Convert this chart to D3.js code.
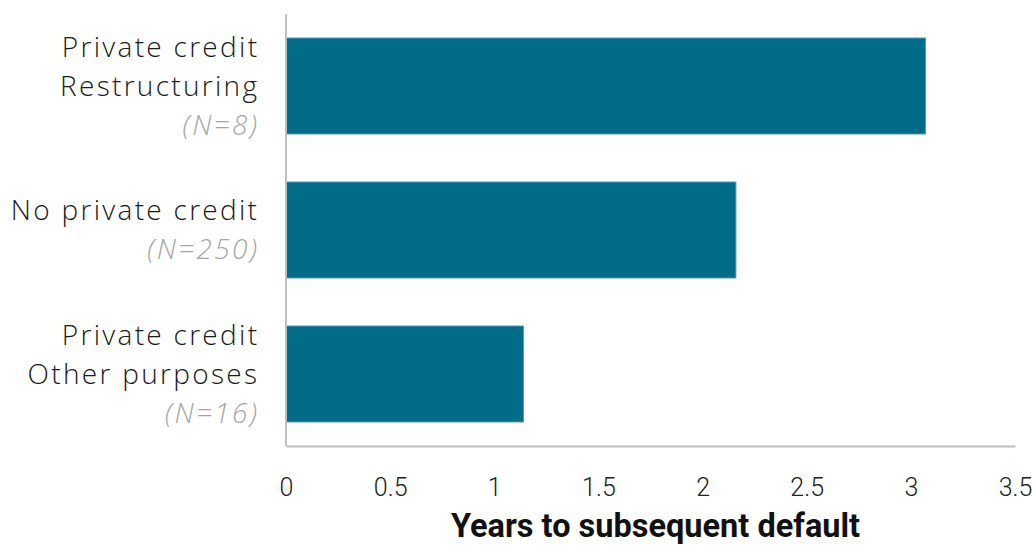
<!DOCTYPE html>
<html><head><meta charset="utf-8">
<script src="https://cdn.jsdelivr.net/npm/d3@7"></script>
<style>
html,body{margin:0;padding:0;background:#fff;}
svg{display:block;}
</style></head>
<body><svg id="chart" width="1036" height="546"></svg>
<script>
const categories = ["Private credit|Restructuring", "No private credit", "Private credit|Other purposes"];
const sampleSizes = ["(N=8)", "(N=250)", "(N=16)"];
const values = [3.07, 2.16, 1.14];
const tickValues = [0, 0.5, 1, 1.5, 2, 2.5, 3, 3.5];
const xTitle = "Years to subsequent default";

const svg = d3.select("#chart");
const mLeft = 286, mRight = 1015, mTop = 14, mBottom = 446;
const x = d3.scaleLinear().domain([0, 3.5]).range([mLeft, mRight]);
const y = d3.scaleBand().domain(categories).range([mTop, mBottom]).paddingInner(1/3).paddingOuter(1/6);

const font = "Roboto, 'Open Sans', sans-serif";
const labelFont = "'Open Sans', Roboto, sans-serif";
const ls = 2.3;

// bars
svg.selectAll("rect.bar").data(categories).join("rect")
  .attr("class", "bar")
  .attr("x", x(0))
  .attr("y", d => y(d))
  .attr("width", (d, i) => x(values[i]) - x(0))
  .attr("height", y.bandwidth())
  .attr("fill", "#006C87")
  .attr("stroke", "#4F9BB0")
  .attr("stroke-width", 1);

// x axis
const xAxis = d3.axisBottom(x).tickValues(tickValues).tickSize(0).tickPadding(32)
  .tickFormat(d => String(d));
const gx = svg.append("g").attr("transform", `translate(0,${mBottom})`).call(xAxis);
gx.select(".domain").attr("stroke", "#BFBFBF").attr("stroke-width", 2);
gx.selectAll(".tick text").attr("font-family", font).attr("font-weight", 300)
  .attr("font-size", 25).attr("fill", "#222");

// y axis line
svg.append("line").attr("x1", mLeft).attr("x2", mLeft).attr("y1", mTop).attr("y2", mBottom)
  .attr("stroke", "#BFBFBF").attr("stroke-width", 2);

// category labels
const lineH = 39;
categories.forEach((c, i) => {
  const lines = c.split("|");
  const all = lines.map(t => ({t, n: false})).concat([{t: sampleSizes[i], n: true}]);
  const cy = y(c) + y.bandwidth() / 2;
  const start = cy - (all.length - 1) * lineH / 2;
  all.forEach((l, j) => {
    svg.append("text")
      .attr("x", 257 + ls)
      .attr("y", start + j * lineH)
      .attr("dy", "0.35em")
      .attr("text-anchor", "end")
      .attr("font-family", labelFont)
      .attr("font-weight", 300)
      .attr("font-style", l.n ? "italic" : "normal")
      .attr("font-size", 28)
      .attr("letter-spacing", ls)
      .attr("fill", l.n ? "#A6A6A6" : "#1a1a1a")
      .text(l.t);
  });
});

// title
svg.append("text")
  .attr("x", (mLeft + mRight) / 2 + 5)
  .attr("y", 537)
  .attr("text-anchor", "middle")
  .attr("font-family", font)
  .attr("font-weight", 700)
  .attr("font-size", 32.5)
  .attr("fill", "#111")
  .text(xTitle);
</script>
</body></html>
